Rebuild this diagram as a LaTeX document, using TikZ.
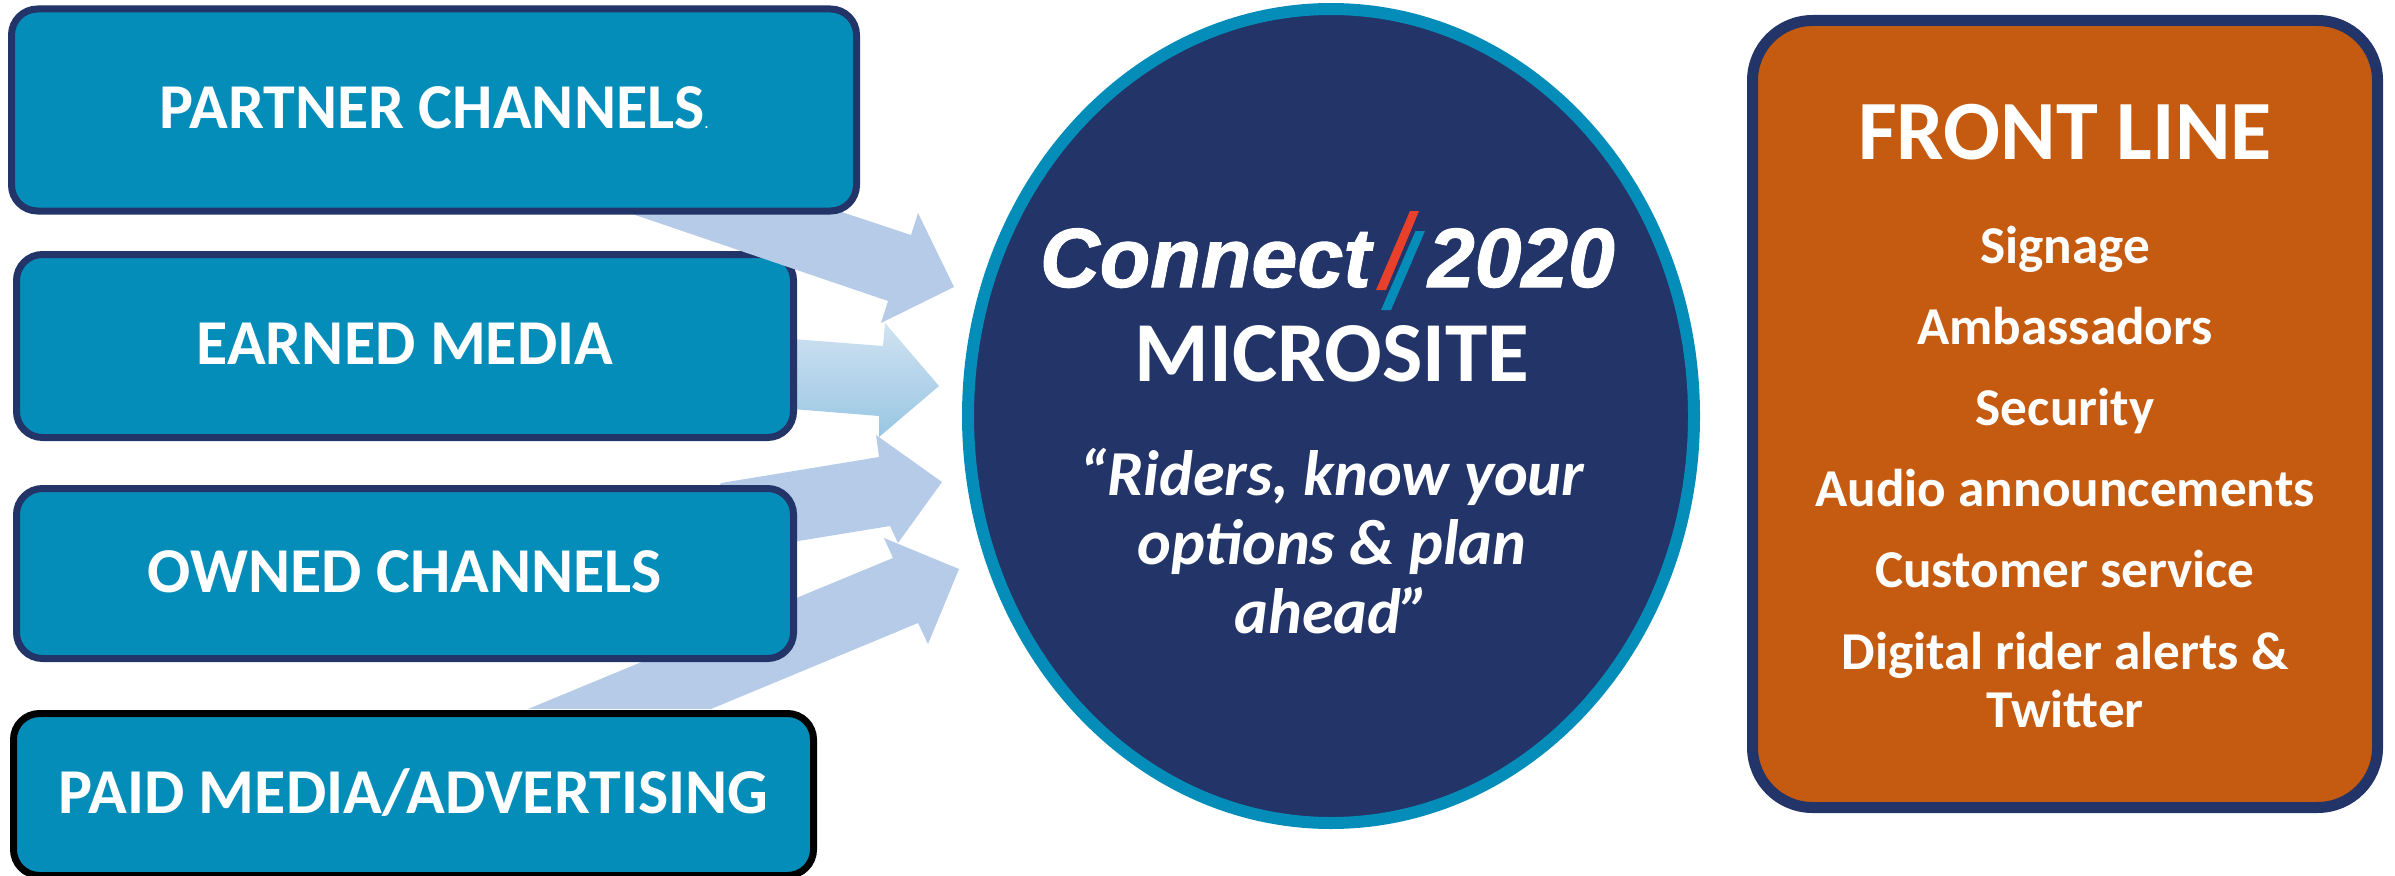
\documentclass[tikz,border=0pt]{standalone}
\usepackage{fontspec}
\setmainfont{Carlito}
\newfontfamily\logofont[BoldItalicFeatures={FakeBold=1.2}]{Liberation Sans}
\usetikzlibrary{shapes.geometric}
\definecolor{teal}{HTML}{058DB9}
\definecolor{navy}{HTML}{223468}
\definecolor{burnt}{HTML}{C55A11}
\definecolor{arrowblue}{HTML}{B5CBE8}
\definecolor{gradtop}{HTML}{D0E2F1}
\definecolor{gradbot}{HTML}{98C6E3}
\definecolor{slashred}{HTML}{E8402A}
\def\pxu{0.02cm}
\newcommand{\fs}[1]{\fontsize{#1}{#1}\selectfont}
\tikzset{
  x=0.02cm, y=-0.02cm,
  every node/.style={inner sep=0pt, outer sep=0pt},
  channel/.style={draw=navy, fill=teal, line width=7*\pxu, rounded corners=26*\pxu,
    text=white, font=\fs{36.4}\bfseries, align=center, text height=40*\pxu},
  blockarrow/.style={fill=arrowblue, draw=none},
  label/.style={text=white, anchor=base, font=\bfseries},
  item/.style={label, font=\fs{30.3}\bfseries},
}
\begin{document}
\begin{tikzpicture}
\useasboundingbox (0,0) rectangle (2395,875);
% gradient arrow lies under the earned box
\shade[top color=gradtop, bottom color=gradbot] (780,338) -- (883,346) -- (885,323) -- (939,386) -- (879,437) -- (879,416) -- (780,408) -- cycle;
% Earned box next: the partner arrow lies over it
\node[channel, minimum width=777*\pxu, minimum height=183*\pxu, text depth=4*\pxu] (earned) at (405,346) {EARNED MEDIA};
% arrows
\fill[blockarrow] (600,203) -- (888,301) -- (881,323) -- (954,287) -- (918,213) -- (911,235) -- (700,165) -- cycle;
\fill[blockarrow] (721,483) -- (879,457) -- (876,435) -- (942,482) -- (898,543) -- (890,526) -- (780,544) -- (700,520) -- cycle;
\fill[blockarrow] (528,709) -- (893,558) -- (884,538) -- (959,569) -- (928,644) -- (918,623) -- (711,709) -- cycle;
% boxes over the arrows
\node[channel, minimum width=845*\pxu, minimum height=202*\pxu, text depth=3*\pxu] (partner) at (434,110) {PARTNER CHANNELS{\fs{8}.}};
\node[channel, minimum width=777*\pxu, minimum height=170*\pxu, text depth=2*\pxu] (owned) at (405,573.5) {OWNED CHANNELS};
\node[channel, draw=black, minimum width=800*\pxu, minimum height=162*\pxu, text depth=2*\pxu] (paid) at (413.5,794.5) {PAID MEDIA/ADVERTISING};
% microsite
\node[ellipse, draw=teal, fill=navy, line width=12*\pxu, minimum width=726*\pxu, minimum height=814*\pxu] (site) at (1331,416) {};
\node[label, anchor=base west, xscale=0.985, font=\logofont\fs{47.8}\bfseries\itshape] (connect) at (1040,287) {Connect};
\node[label, anchor=base west, font=\logofont\fs{47.8}\bfseries\itshape] (year) at (1428,287) {2020};
\fill[slashred] (1376,290) -- (1386,290) -- (1419,211) -- (1410,211) -- cycle;
\fill[teal] (1381,310) -- (1391,310) -- (1425,231) -- (1415.5,231) -- cycle;
\node[label, font=\fs{48.6}\bfseries] (micro) at (1332,381) {MICROSITE};
\node[label, font=\fs{36.5}\bfseries\itshape] (q1) at (1332,495.5) {“Riders, know your};
\node[label, font=\fs{36.5}\bfseries\itshape] (q2) at (1332,564.5) {options \& plan};
\node[label, font=\fs{36.5}\bfseries\itshape] (q3) at (1332,633.5) {ahead”};
% front line
\node[draw=navy, fill=burnt, line width=11*\pxu, rounded corners=60*\pxu, minimum width=625*\pxu, minimum height=787*\pxu] (front) at (2065,414) {};
\node[label, font=\fs{48}\bfseries] (fl) at (2065,159.5) {FRONT LINE};
\node[item] (i1) at (2065,263) {Signage};
\node[item] (i2) at (2065,344.5) {Ambassadors};
\node[item] (i3) at (2065,425.5) {Security};
\node[item] (i4) at (2065,506.5) {Audio announcements};
\node[item] (i5) at (2065,587.5) {Customer service};
\node[item] (i6) at (2065,669.5) {Digital rider alerts \&};
\node[item] (i7) at (2065,727.5) {Twitter};
\end{tikzpicture}
\end{document}
